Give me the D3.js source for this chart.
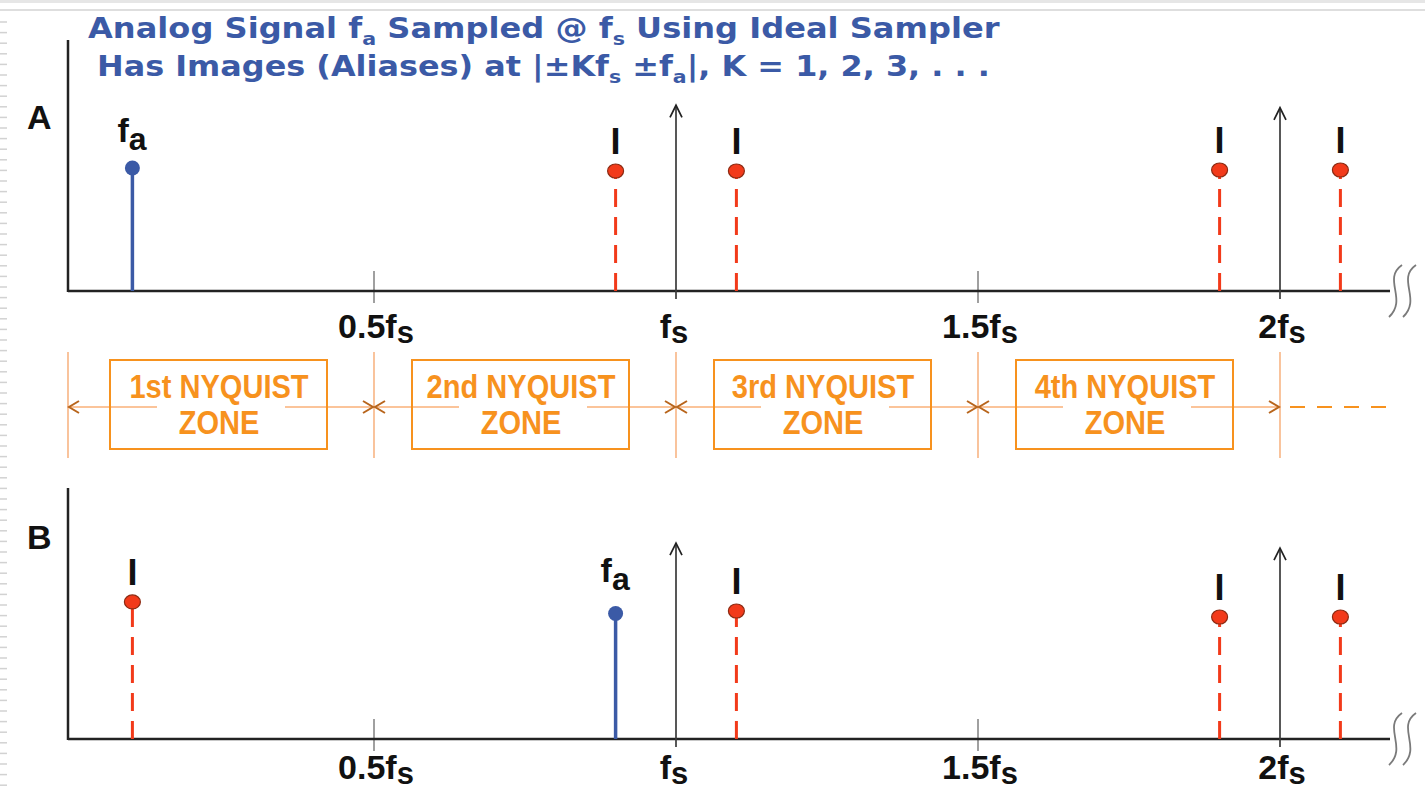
<!DOCTYPE html>
<html>
<head>
<meta charset="utf-8">
<script src="https://cdn.jsdelivr.net/npm/d3@7"></script>
<style>
  body { margin: 0; background: #fff; }
  svg { display: block; }
</style>
</head>
<body>
<svg id="chart"></svg>
<script>
// frequencies are in units of fs, amplitudes are a fraction of the axis height
const tickFreqs = [0.5, 1, 1.5, 2];
const tickLabels = ['0.5f', 'f', '1.5f', '2f'];
const zoneEdges = [0, 0.5, 1, 1.5, 2];
const zoneNames = ['1st', '2nd', '3rd', '4th'];

const signalA = [{ f: 0.1, amp: 0.49 }];
const imagesA = [{ f: 0.9, amp: 0.478 }, { f: 1.1, amp: 0.478 }, { f: 1.9, amp: 0.482 }, { f: 2.1, amp: 0.482 }];
const samplesA = [{ f: 1, amp: 0.74 }, { f: 2, amp: 0.73 }];

const signalB = [{ f: 0.9, amp: 0.50 }];
const imagesB = [{ f: 0.1, amp: 0.546 }, { f: 1.1, amp: 0.51 }, { f: 1.9, amp: 0.486 }, { f: 2.1, amp: 0.486 }];
const samplesB = [{ f: 1, amp: 0.78 }, { f: 2, amp: 0.76 }];

const W = 1425, H = 793;
const axisX = 68, axisEnd = 1390;
const font = '"Liberation Sans", Arial, sans-serif';
const blue = '#3b5aa6', red = '#f23a1a', orange = '#f7921e';

const svg = d3.select('#chart').attr('width', W).attr('height', H);

const x = d3.scaleLinear().domain([0, 2]).range([72, 1280]);

// slide frame bits: top rule and left ruler
svg.append('rect').attr('x', 0).attr('y', 0).attr('width', W).attr('height', 3).attr('fill', '#e6e6e6');
svg.append('line').attr('x1', 0).attr('x2', W).attr('y1', 10).attr('y2', 10)
    .attr('stroke', '#dedede').attr('stroke-width', 2);
svg.append('g').selectAll('line')
    .data(d3.range(22, H, 10.6))
    .enter().append('line')
    .attr('x1', 0).attr('x2', 7)
    .attr('y1', d => d).attr('y2', d => d)
    .attr('stroke', '#d2d2d2').attr('stroke-width', 1.5);

function fitText(sel, x0, x1) {
    const w = sel.node().getBBox().width;
    sel.attr('x', 0).attr('transform', `translate(${x0},0) scale(${(x1 - x0) / w},1)`);
}

// title
const t1 = svg.append('text').attr('y', 38)
    .attr('font-family', '"DejaVu Sans", sans-serif').attr('font-weight', 'bold')
    .attr('font-size', 28).attr('fill', blue);
t1.append('tspan').text('Analog Signal f');
t1.append('tspan').attr('font-size', 18).attr('dy', 7).text('a');
t1.append('tspan').attr('dy', -7).text(' Sampled @ f');
t1.append('tspan').attr('font-size', 18).attr('dy', 7).text('s');
t1.append('tspan').attr('dy', -7).text(' Using Ideal Sampler');
fitText(t1, 88, 1000);

const t2 = svg.append('text').attr('y', 76)
    .attr('font-family', '"DejaVu Sans", sans-serif').attr('font-weight', 'bold')
    .attr('font-size', 28).attr('fill', blue);
t2.append('tspan').text('Has Images (Aliases) at |\u00b1Kf');
t2.append('tspan').attr('font-size', 18).attr('dy', 7).text('s');
t2.append('tspan').attr('dy', -7).text(' \u00b1f');
t2.append('tspan').attr('font-size', 18).attr('dy', 7).text('a');
t2.append('tspan').attr('dy', -7).text('|, K = 1, 2, 3, . . .');
fitText(t2, 97, 990);

const panels = [
    { name: 'A', top: 40, base: 291, signal: signalA, images: imagesA, samples: samplesA, faOff: 26, labDy: 47 },
    { name: 'B', top: 488, base: 739, signal: signalB, images: imagesB, samples: samplesB, faOff: 32, labDy: 40 }
];

function drawPanel(p) {
    const y = d3.scaleLinear().domain([0, 1]).range([p.base, p.top]);
    const g = svg.append('g');

    g.append('text')
        .attr('x', 27).attr('y', p.base - (p.name === 'A' ? 162 : 190))
        .attr('font-family', font).attr('font-weight', 'bold').attr('font-size', 34)
        .attr('fill', '#111').text(p.name);

    // small gray ticks at half multiples of fs
    g.selectAll('.tick')
        .data(tickFreqs.filter(d => d % 1 !== 0))
        .enter().append('line')
        .attr('x1', d => x(d)).attr('x2', d => x(d))
        .attr('y1', p.base - 20).attr('y2', p.base + 12)
        .attr('stroke', '#a0a0a0').attr('stroke-width', 2);

    // axes
    g.append('line').attr('x1', axisX).attr('x2', axisX).attr('y1', p.top).attr('y2', p.base + 1)
        .attr('stroke', '#222').attr('stroke-width', 2.5);
    g.append('line').attr('x1', axisX).attr('x2', axisEnd).attr('y1', p.base).attr('y2', p.base)
        .attr('stroke', '#222').attr('stroke-width', 2.5);

    // axis break symbol
    [0, 14].forEach(dx => {
        const bx = axisEnd + 2 + dx, by = p.base;
        g.append('path')
            .attr('d', `M${bx + 10},${by - 26} C${bx - 10},${by - 12} ${bx + 16},${by + 8} ${bx - 3},${by + 26}`)
            .attr('fill', 'none').attr('stroke', '#7a7a7a').attr('stroke-width', 1.8);
    });

    // tick labels
    const lab = g.selectAll('.lab')
        .data(tickFreqs)
        .enter().append('text')
        .attr('x', (d, i) => x(d) + (i === 1 ? -2 : 2))
        .attr('y', p.base + p.labDy)
        .attr('text-anchor', 'middle')
        .attr('font-family', font).attr('font-weight', 'bold').attr('font-size', 34)
        .attr('fill', '#111');
    lab.append('tspan').text((d, i) => tickLabels[i]);
    lab.append('tspan').attr('dy', 5).attr('font-size', 31).text('s');

    // sampling impulses (arrows)
    const s = g.selectAll('.samp').data(p.samples).enter().append('g');
    s.append('line')
        .attr('x1', d => x(d.f)).attr('x2', d => x(d.f))
        .attr('y1', p.base + 8).attr('y2', d => y(d.amp))
        .attr('stroke', '#3a3a3a').attr('stroke-width', 1.7);
    s.append('path')
        .attr('d', d => `M${x(d.f) - 6},${y(d.amp) + 12} L${x(d.f)},${y(d.amp)} L${x(d.f) + 6},${y(d.amp) + 12}`)
        .attr('fill', 'none').attr('stroke', '#222').attr('stroke-width', 1.7);

    // images (aliases)
    const im = g.selectAll('.img').data(p.images).enter().append('g');
    im.append('line')
        .attr('x1', d => x(d.f)).attr('x2', d => x(d.f))
        .attr('y1', p.base).attr('y2', d => y(d.amp) + 6)
        .attr('stroke', red).attr('stroke-width', 3)
        .attr('stroke-dasharray', '18,10');
    im.append('ellipse')
        .attr('cx', d => x(d.f)).attr('cy', d => y(d.amp))
        .attr('rx', 8).attr('ry', 7)
        .attr('fill', red).attr('stroke', '#8c2a12').attr('stroke-width', 1.2);
    im.append('text')
        .attr('x', d => x(d.f)).attr('y', d => y(d.amp) - 17)
        .attr('text-anchor', 'middle')
        .attr('font-family', font).attr('font-weight', 'bold').attr('font-size', 36)
        .attr('fill', '#111').text('I');

    // analog signal
    const sg = g.selectAll('.sig').data(p.signal).enter().append('g');
    sg.append('line')
        .attr('x1', d => x(d.f)).attr('x2', d => x(d.f))
        .attr('y1', p.base).attr('y2', d => y(d.amp))
        .attr('stroke', blue).attr('stroke-width', 3.5);
    sg.append('circle')
        .attr('cx', d => x(d.f)).attr('cy', d => y(d.amp)).attr('r', 7.5)
        .attr('fill', blue);
    const fl = sg.append('text')
        .attr('x', d => x(d.f) - 15).attr('y', d => y(d.amp) - p.faOff)
        .attr('font-family', font).attr('font-weight', 'bold').attr('font-size', 34)
        .attr('fill', '#111');
    fl.append('tspan').text('f');
    fl.append('tspan').attr('dy', 8).attr('font-size', 32).text('a');
}

panels.forEach(drawPanel);

// Nyquist zone band
const bandY = 407;
const band = svg.append('g');
const zones = zoneNames.map((n, i) => ({
    name: n,
    x0: zoneEdges[i] === 0 ? axisX : x(zoneEdges[i]),
    x1: x(zoneEdges[i + 1]),
    cx: x((zoneEdges[i] + zoneEdges[i + 1]) / 2) - 4
}));

band.selectAll('.edge')
    .data(zoneEdges)
    .enter().append('line')
    .attr('x1', d => d === 0 ? axisX : x(d)).attr('x2', d => d === 0 ? axisX : x(d))
    .attr('y1', 352).attr('y2', 458)
    .attr('stroke', '#f8b584').attr('stroke-width', 1.6);

band.selectAll('.al')
    .data(zones)
    .enter().append('line')
    .attr('x1', d => d.x0).attr('x2', d => d.cx - 62)
    .attr('y1', bandY).attr('y2', bandY)
    .attr('stroke', '#fbc49a').attr('stroke-width', 2);
band.selectAll('.ar')
    .data(zones)
    .enter().append('line')
    .attr('x1', d => d.cx + 66).attr('x2', d => d.x1)
    .attr('y1', bandY).attr('y2', bandY)
    .attr('stroke', '#fbc49a').attr('stroke-width', 2);

band.selectAll('.hl')
    .data(zones)
    .enter().append('path')
    .attr('d', d => `M${d.x0 + 11},${bandY - 6} L${d.x0 + 1},${bandY} L${d.x0 + 11},${bandY + 6}`)
    .attr('fill', 'none').attr('stroke', '#b8651c').attr('stroke-width', 2);
band.selectAll('.hr')
    .data(zones)
    .enter().append('path')
    .attr('d', d => `M${d.x1 - 11},${bandY - 6} L${d.x1 - 1},${bandY} L${d.x1 - 11},${bandY + 6}`)
    .attr('fill', 'none').attr('stroke', '#b8651c').attr('stroke-width', 2);

band.selectAll('.box')
    .data(zones)
    .enter().append('rect')
    .attr('x', d => d.cx - 109).attr('y', 360)
    .attr('width', 217).attr('height', 89)
    .attr('fill', 'none').attr('stroke', orange).attr('stroke-width', 2);

zones.forEach(d => {
    [[d.name + ' NYQUIST', 398], ['ZONE', 434]].forEach(([txt, ty]) => {
        band.append('text')
            .attr('x', 0).attr('y', ty)
            .attr('text-anchor', 'middle')
            .attr('transform', `translate(${d.cx},0) scale(0.88,1)`)
            .attr('font-family', font).attr('font-weight', 'bold').attr('font-size', 33)
            .attr('fill', orange).text(txt);
    });
});

band.append('line')
    .attr('x1', x(2) + 10).attr('x2', 1395)
    .attr('y1', bandY).attr('y2', bandY)
    .attr('stroke', orange).attr('stroke-width', 2)
    .attr('stroke-dasharray', '15,12');
</script>
</body>
</html>
